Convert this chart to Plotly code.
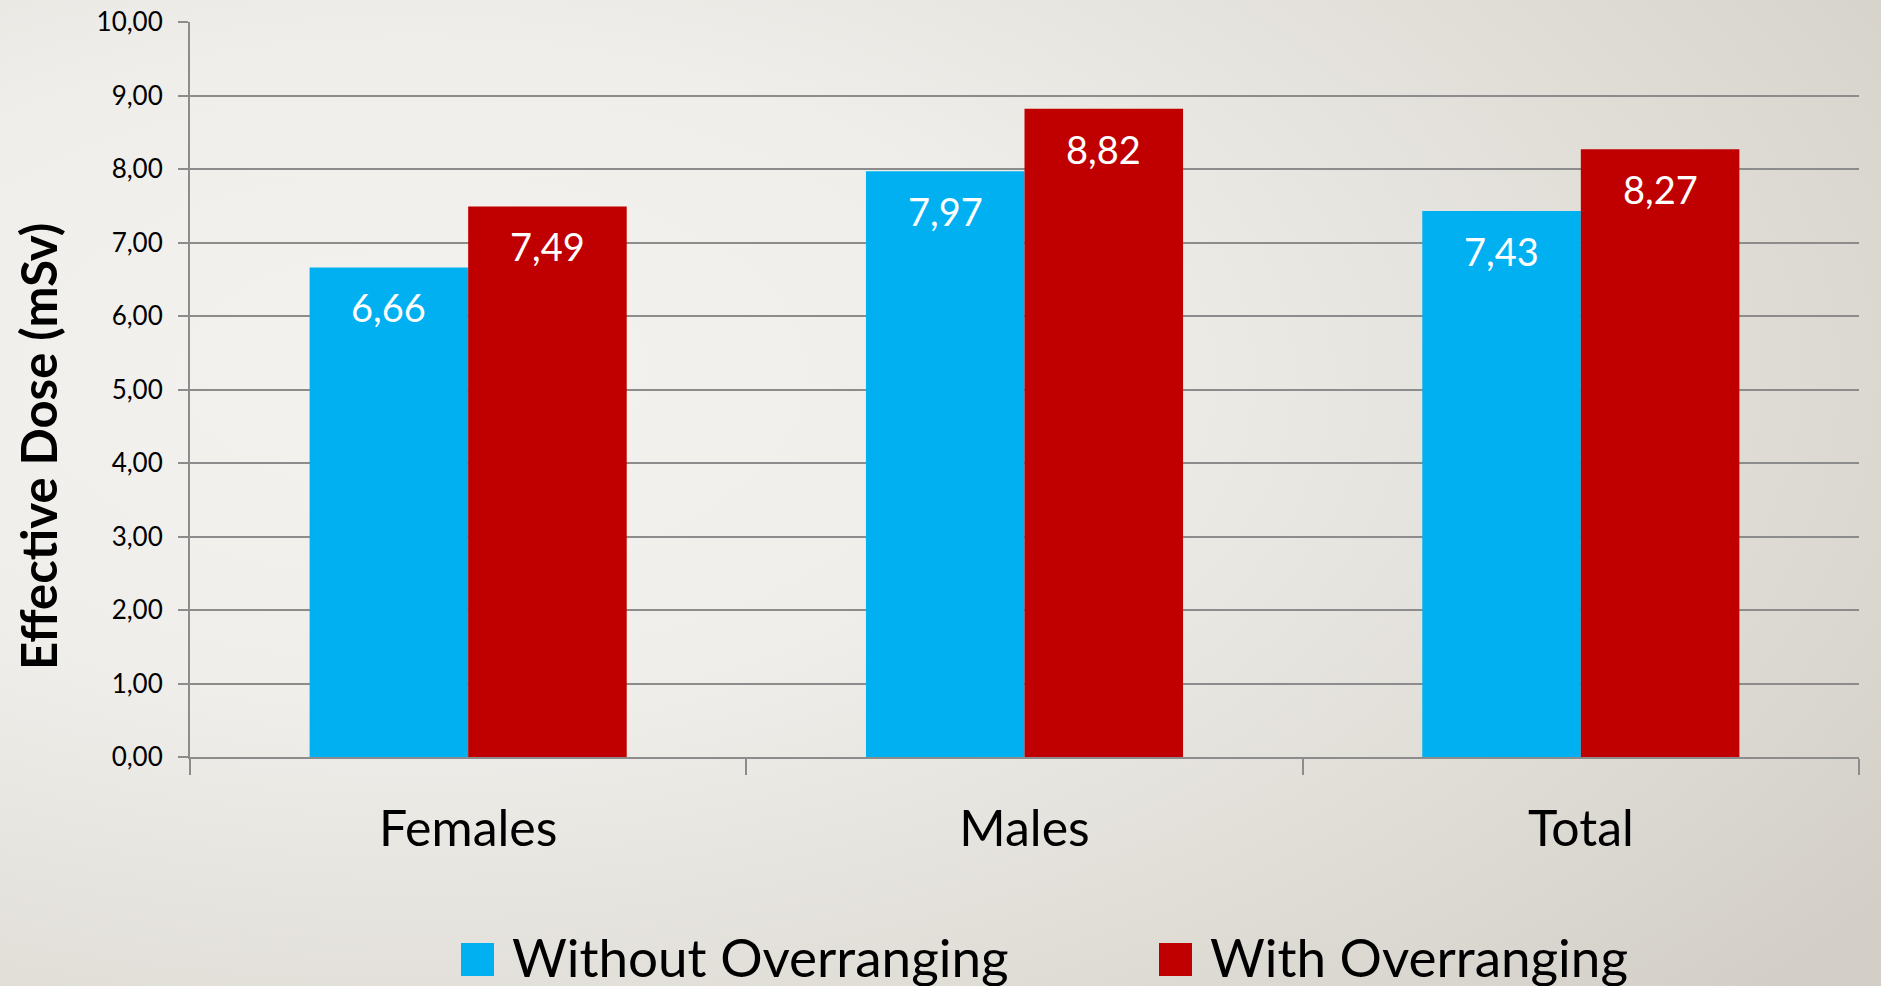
import base64
import plotly.graph_objects as go

categories = ["Females", "Males", "Total"]
without_overranging = [6.66, 7.97, 7.43]
with_overranging = [7.49, 8.82, 8.27]
series_names = ["Without Overranging", "With Overranging"]
y_ticks = [0, 1, 2, 3, 4, 5, 6, 7, 8, 9, 10]
y_title = "Effective Dose (mSv)"

W, H = 1881, 986
ML, MR, MT, MB = 190, 22, 22, 229
PW, PH = W - ML - MR, H - MT - MB
BARGAP = 0.43

FONT = "Lato"
BLUE = "#00B0F0"
RED = "#C00000"
GRID = "#8c8c8c"
COLORS = [BLUE, RED]

svg = f"""<svg xmlns='http://www.w3.org/2000/svg' width='{W}' height='{H}' viewBox='0 0 {W} {H}' preserveAspectRatio='none'>
<defs><radialGradient id='g' cx='0.22' cy='0.38' r='0.95' fx='0.22' fy='0.38'>
<stop offset='0' stop-color='#f3f2ee'/>
<stop offset='0.35' stop-color='#efeeea'/>
<stop offset='0.7' stop-color='#e1ded8'/>
<stop offset='1' stop-color='#d3cfc8'/>
</radialGradient></defs>
<rect width='{W}' height='{H}' fill='url(#g)'/></svg>"""
bg_uri = "data:image/svg+xml;base64," + base64.b64encode(svg.encode()).decode()

def px_x(p):
    return (p - ML) / PW

def px_y(p):
    return (MT + PH - p) / PH

fig = go.Figure()
series = [without_overranging, with_overranging]
for name, vals, col in zip(series_names, series, COLORS):
    fig.add_trace(go.Bar(
        x=categories, y=vals, name=name,
        marker=dict(color=col, line=dict(width=0)),
        showlegend=False,
        hoverinfo="skip",
    ))

# value labels anchored to the bars' data coordinates
bar_w = PW / len(categories) * (1 - BARGAP) / len(series)
annotations = []
for si, vals in enumerate(series):
    shift = (si - (len(series) - 1) / 2) * bar_w
    for c, v in zip(categories, vals):
        annotations.append(dict(
            x=c, y=v, xref="x", yref="y", text=f"{v:.2f}".replace(".", ","),
            showarrow=False, xanchor="center", yanchor="top",
            xshift=shift, yshift=-15,
            font=dict(family=FONT, size=38, color="white"),
        ))

# y-axis title
annotations.append(dict(
    x=px_x(38), y=px_y(447), xref="paper", yref="paper",
    text=f"<b>{y_title}</b>", textangle=-90, showarrow=False,
    xanchor="center", yanchor="middle",
    font=dict(family=FONT, size=49, color="#000000"),
))

# legend
shapes = []
legend_swatch_x = [461, 1159]
for name, col, sx in zip(series_names, COLORS, legend_swatch_x):
    shapes.append(dict(type="rect", xref="paper", yref="paper",
                       x0=px_x(sx), x1=px_x(sx + 33), y0=px_y(976), y1=px_y(943),
                       fillcolor=col, line=dict(width=0), layer="above"))
    annotations.append(dict(
        x=px_x(sx + 49), y=px_y(956), xref="paper", yref="paper",
        text=name, showarrow=False, xanchor="left", yanchor="middle",
        font=dict(family=FONT, size=53, color="#000000"),
    ))

fig.update_layout(
    width=W, height=H,
    margin=dict(l=ML, r=MR, t=MT, b=MB, autoexpand=False),
    separators=",.",
    barmode="group", bargap=BARGAP, bargroupgap=0,
    paper_bgcolor="#ecebe7", plot_bgcolor="rgba(0,0,0,0)",
    font=dict(family=FONT, color="#000000"),
    showlegend=False,
    annotations=annotations,
    shapes=shapes,
    images=[dict(source=bg_uri, xref="paper", yref="paper",
                 x=-ML / PW, y=1 + MT / PH, sizex=W / PW, sizey=H / PH,
                 xanchor="left", yanchor="top", sizing="stretch", layer="below")],
    xaxis=dict(
        showline=True, linecolor=GRID, linewidth=2,
        ticks="outside", tickson="boundaries", ticklen=16, tickwidth=2, tickcolor=GRID,
        tickfont=dict(family=FONT, size=50, color="#000000"),
        ticklabelstandoff=27,
        showgrid=False,
    ),
    yaxis=dict(
        range=[0, 10], tickvals=y_ticks, tickformat=".2f",
        showgrid=True, gridcolor=GRID, gridwidth=2,
        showline=True, linecolor=GRID, linewidth=2,
        ticks="outside", ticklen=10, tickwidth=2, tickcolor=GRID,
        tickfont=dict(family=FONT, size=26, color="#000000"),
        ticklabelstandoff=10,
        zeroline=False,
    ),
)

fig.write_html("out.html")
